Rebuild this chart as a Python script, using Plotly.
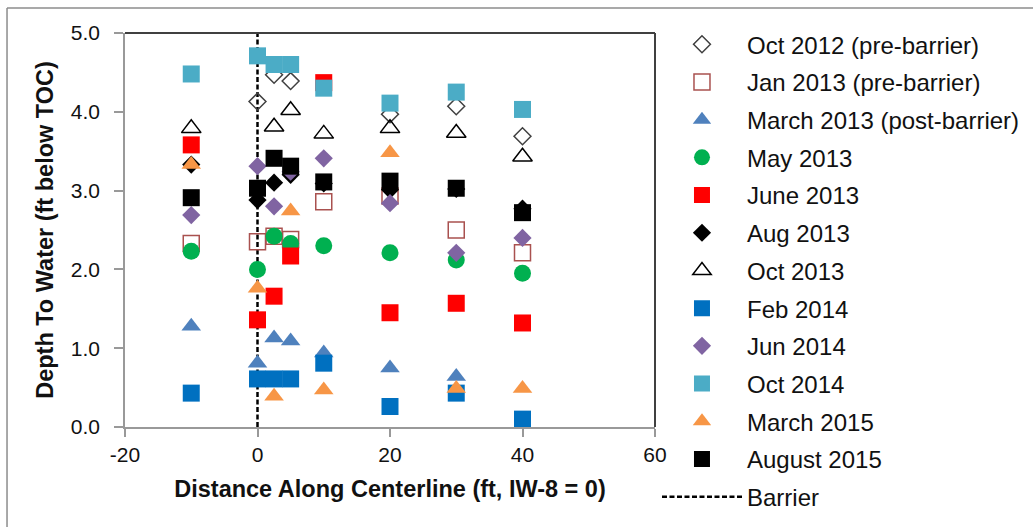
import plotly.graph_objects as go

# Distance along centerline (ft, IW-8 = 0) for each monitoring well
distance = [-10, 0, 2.5, 5, 10, 20, 30, 40]

# Depth to water (ft below TOC) for each sampling event
oct_2012 = [None, 4.13, 4.47, 4.39, None, 3.97, 4.07, 3.69]
jan_2013 = [2.33, 2.35, 2.42, 2.38, 2.86, 2.93, 2.50, 2.21]
mar_2013 = [1.28, 0.81, 1.13, 1.09, 0.94, 0.75, 0.64, None]
may_2013 = [2.23, 2.00, 2.42, 2.33, 2.30, 2.21, 2.12, 1.95]
jun_2013 = [3.58, 1.36, 1.66, 2.17, 4.37, 1.45, 1.57, 1.32]
aug_2013 = [3.33, 2.88, 3.10, 3.20, 3.09, 3.01, 3.02, 2.77]
oct_2013 = [3.79, None, 3.81, 4.02, 3.72, 3.79, 3.73, 3.43]
feb_2014 = [0.43, 0.61, 0.61, 0.61, 0.81, 0.26, 0.43, 0.10]
jun_2014 = [2.69, 3.31, 2.80, 3.24, 3.41, 2.84, 2.21, 2.40]
oct_2014 = [4.48, 4.71, 4.60, 4.60, 4.30, 4.11, 4.25, 4.03]
mar_2015 = [3.33, 1.76, 0.39, 2.74, 0.47, 3.48, 0.49, 0.49]
aug_2015 = [2.91, 3.03, 3.41, 3.31, 3.11, 3.12, 3.03, 2.72]

# Barrier location
barrier_x = [0, 0]
barrier_y = [0, 5]

# Axis ticks
x_tick_values = [-20, 0, 20, 40, 60]
x_tick_labels = ["-20", "0", "20", "40", "60"]

series = [
    ("Oct 2012 (pre-barrier)", oct_2012, "diamond-open", "#404040", 13),
    ("Jan 2013 (pre-barrier)", jan_2013, "square-open", "#a9514f", 16),
    ("March 2013 (post-barrier)", mar_2013, "triangle-up", "#4f81bd", 17),
    ("May 2013", may_2013, "circle", "#00b050", 17),
    ("June 2013", jun_2013, "square", "#ff0000", 17),
    ("Aug 2013", aug_2013, "diamond", "#000000", 14),
    ("Oct 2013", oct_2013, "triangle-up-open", "#000000", 17),
    ("Feb 2014", feb_2014, "square", "#0070c0", 17),
    ("Jun 2014", jun_2014, "diamond", "#8064a2", 14),
    ("Oct 2014", oct_2014, "square", "#4bacc6", 17),
    ("March 2015", mar_2015, "triangle-up", "#f79646", 17),
    ("August 2015", aug_2015, "square", "#000000", 17),
]

fig = go.Figure()

fig.add_trace(go.Scatter(
    x=barrier_x, y=barrier_y, mode="lines", name="Barrier",
    line=dict(color="black", width=2.5, dash="5px,2.5px"),
    legendgroup="barrier", legendrank=2000,
))

for i, (name, vals, sym, col, size) in enumerate(series):
    open_marker = sym.endswith("-open")
    fig.add_trace(go.Scatter(
        x=distance, y=vals, mode="markers", name=name,
        legendgroup=name, legendrank=1000 + i,
        marker=dict(symbol=sym, size=size, color=col,
                    line=dict(width=1.5 if open_marker else 0, color=col)),
    ))

font_family = "Liberation Sans, Arial, sans-serif"

fig.update_layout(
    width=1033, height=527,
    margin=dict(l=125, r=378, t=33, b=100, autoexpand=False),
    paper_bgcolor="white", plot_bgcolor="white",
    font=dict(family=font_family, size=21, color="#111111"),
    showlegend=True,
    legend=dict(
        xref="container", yref="container",
        x=0.636, y=0.958, xanchor="left", yanchor="top",
        font=dict(size=24, color="#111111"),
        tracegroupgap=3.5, itemwidth=80, bgcolor="rgba(0,0,0,0)",
        maxheight=1,
    ),
    xaxis=dict(
        range=[-20, 60], tickvals=x_tick_values, ticktext=x_tick_labels,
        showgrid=False, zeroline=False,
        showline=True, linecolor="#999999", linewidth=1.5,
        ticks="outside", ticklen=8, tickcolor="#999999", tickwidth=1.5,
        ticklabelstandoff=0,
        tickfont=dict(size=21),
        title=dict(text="<b>Distance Along Centerline (ft, IW-8 = 0)</b>",
                   font=dict(size=23.5), standoff=16),
    ),
    yaxis=dict(
        range=[0, 5], dtick=1, tickformat=".1f",
        showgrid=False, zeroline=False,
        showline=True, linecolor="#999999", linewidth=1.5,
        ticks="outside", ticklen=9, tickcolor="#999999", tickwidth=1.5,
        ticklabelstandoff=10,
        tickfont=dict(size=21),
        title=dict(text="<b>Depth To Water (ft below TOC)</b>",
                   font=dict(size=23.5), standoff=11),
    ),
    shapes=[
        # plot-area frame: top and right edges
        dict(type="line", xref="paper", yref="paper", x0=0, x1=1, y0=1, y1=1,
             line=dict(color="#404040", width=2)),
        dict(type="line", xref="paper", yref="paper", x0=1, x1=1, y0=0, y1=1,
             line=dict(color="#404040", width=2)),
        # chart-area frame
        dict(type="line", xref="paper", yref="paper", x0=-0.2226, x1=2.5,
             y0=1.0635, y1=1.0635, line=dict(color="#8c8c8c", width=1.5)),
        dict(type="line", xref="paper", yref="paper", x0=-0.2226, x1=-0.2226,
             y0=-0.5, y1=1.0635, line=dict(color="#8c8c8c", width=1.5)),
    ],
)

fig.write_html("out.html")
